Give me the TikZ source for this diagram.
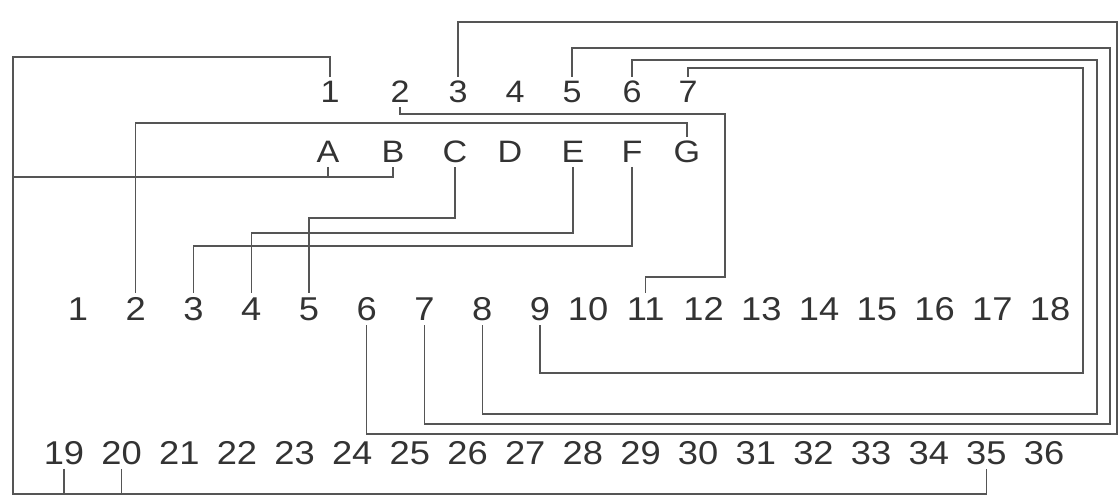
\documentclass[tikz,border=0pt]{standalone}
\usepackage{fontspec}
\setmainfont[FakeStretch=1.1]{Liberation Sans}
\usepackage{tikz}
\usetikzlibrary{positioning, calc}
\definecolor{ink}{HTML}{333333}
\definecolor{wirec}{HTML}{555555}
\tikzset{
  pinlbl/.style={inner sep=4pt, text=ink, font=\fontsize{33}{34}\selectfont},
  toplbl/.style={pinlbl, font=\fontsize{31}{32}\selectfont},
  wire/.style={draw=wirec, line width=1.1pt},
}

\begin{document}
\begin{tikzpicture}[x=1pt, y=-1pt]
\useasboundingbox (0,0) rectangle (1118,497);
\foreach \n/\x in {1/330, 2/400, 3/458, 4/515, 5/572, 6/632, 7/688}
  \node[toplbl] (top\n) at (\x,92) {\n};
\foreach \n/\x in {A/328, B/393, C/455, D/510, E/573, F/632, G/687}
  \node[toplbl] (ltr\n) at (\x,152) {\n};
\foreach \n in {1,...,9}
  \node[pinlbl] (pin\n) at ({78+57.75*(\n-1)},309) {\n};
\foreach \n in {10,...,18}
  \node[pinlbl] (pin\n) at ({588+57.75*(\n-10)},309) {\n};
\foreach \n in {19,...,36}
  \node[pinlbl] (pin\n) at ({64+57.65*(\n-19)},453) {\n};
\coordinate (gndtop) at (13,57);
\coordinate (gndbot) at (13,494);
\draw[wire] (top1.north) |- (gndtop) -- (gndbot) -| (pin35.south);
\draw[wire] (pin19.south) -- (pin19.south |- gndbot);
\draw[wire] (pin20.south) -- (pin20.south |- gndbot);
\draw[wire] (13,177) -| (ltrB.south);
\draw[wire] (ltrA.south) -- (ltrA.south |- 0,177);
\draw[wire] (top2.south) |- (725,114) -- (725,277) -| (pin11.north);
\draw[wire] (ltrG.north) |- (pin2.north |- 0,123) -- (pin2.north);
\draw[wire] (ltrC.south) |- (pin5.north |- 0,218) -- (pin5.north);
\draw[wire] (ltrE.south) |- (pin4.north |- 0,233) -- (pin4.north);
\draw[wire] (ltrF.south) |- (pin3.north |- 0,246) -- (pin3.north);
\draw[wire] (top7.north) |- (1083,68) -- (1083,373) -| (pin9.south);
\draw[wire] (top6.north) |- (1097,60) -- (1097,414) -| (pin8.south);
\draw[wire] (top5.north) |- (1110,48) -- (1110,424) -| (pin7.south);
\draw[wire] (top3.north) |- (1117,22) -- (1117,434) -| (pin6.south);
\end{tikzpicture}
\end{document}
